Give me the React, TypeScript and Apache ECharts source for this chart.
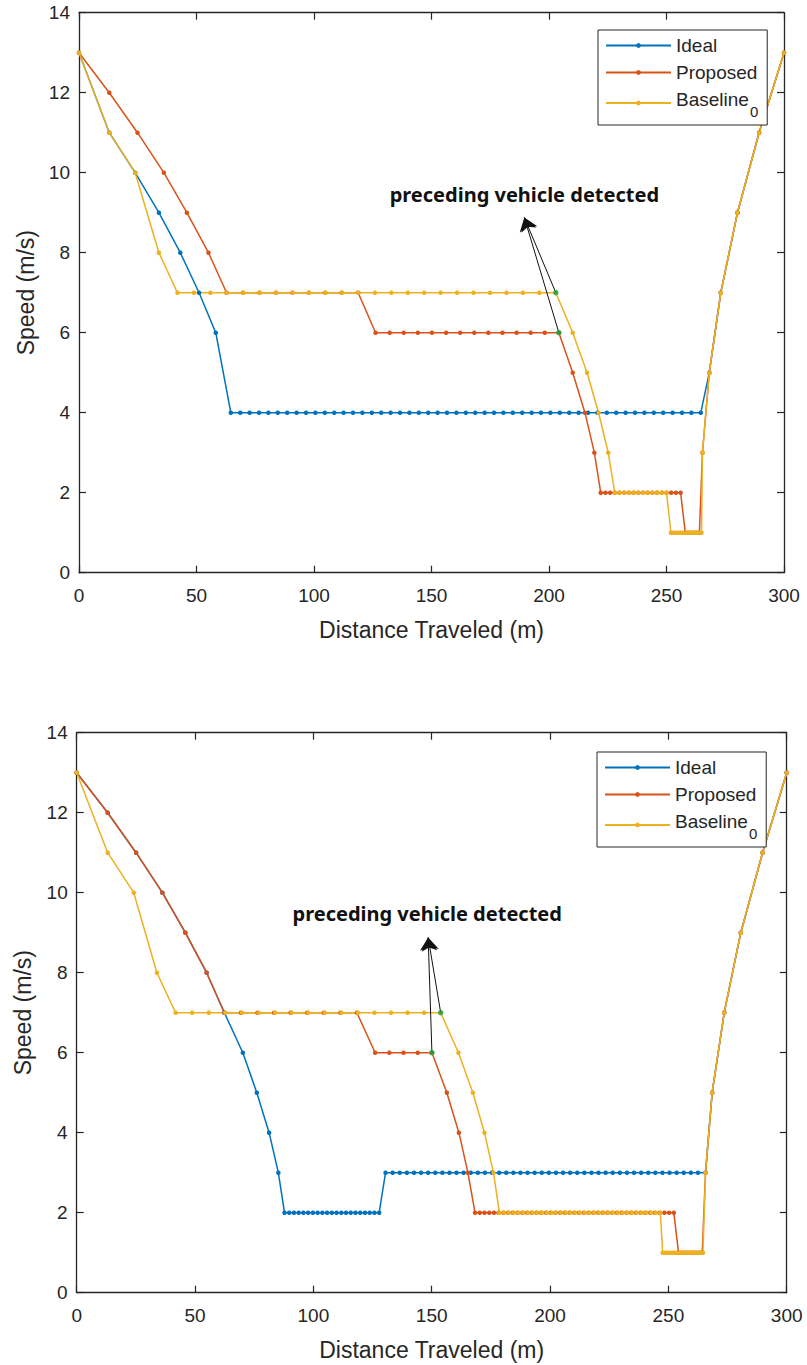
import React, { useEffect, useRef } from "react";
import * as echarts from "echarts";

// ---------- Scenario 1 (upper panel) ----------
const topIdealX = [
  0, 12.9, 23.9, 34.0, 43.1, 51.1, 58.2,
  64.6, 68.6, 72.6, 76.6, 80.6, 84.6, 88.6, 92.6, 96.6, 100.6,
  104.6, 108.6, 112.6, 116.6, 120.6, 124.6, 128.6, 132.6, 136.6, 140.6,
  144.6, 148.6, 152.6, 156.6, 160.6, 164.6, 168.6, 172.6, 176.6, 180.6,
  184.6, 188.6, 192.6, 196.6, 200.6, 204.6, 208.6, 212.6, 216.6, 220.6,
  224.6, 228.6, 232.6, 236.6, 240.6, 244.6, 248.6, 252.6, 256.6, 260.6, 264.6,
  268.2, 273.1, 280.2, 289.4, 300,
];
const topIdealY = [
  13, 11, 10, 9, 8, 7, 6,
  4, 4, 4, 4, 4, 4, 4, 4, 4, 4,
  4, 4, 4, 4, 4, 4, 4, 4, 4, 4,
  4, 4, 4, 4, 4, 4, 4, 4, 4, 4,
  4, 4, 4, 4, 4, 4, 4, 4, 4, 4,
  4, 4, 4, 4, 4, 4, 4, 4, 4, 4, 4,
  5, 7, 9, 11, 13,
];

const topProposedX = [
  0, 12.9, 24.9, 36.1, 45.9, 55.1,
  62.8, 69.8, 76.8, 83.8, 90.8, 97.8, 104.8, 111.8, 118.8,
  126.2, 132.2, 138.2, 144.2, 150.2, 156.2, 162.2, 168.2, 174.2, 180.2, 186.2, 192.2, 198.2, 204.2,
  210.1, 215.3, 219.3,
  222, 224, 226, 228, 230, 232, 234, 236, 238, 240, 242, 244, 246, 248, 250, 252, 254, 256,
  258, 259, 260, 261, 262, 263, 264,
  265.3, 268.2, 273.1, 280.2, 289.4, 300,
];
const topProposedY = [
  13, 12, 11, 10, 9, 8,
  7, 7, 7, 7, 7, 7, 7, 7, 7,
  6, 6, 6, 6, 6, 6, 6, 6, 6, 6, 6, 6, 6, 6,
  5, 4, 3,
  2, 2, 2, 2, 2, 2, 2, 2, 2, 2, 2, 2, 2, 2, 2, 2, 2, 2,
  1, 1, 1, 1, 1, 1, 1,
  3, 5, 7, 9, 11, 13,
];

const topBaselineX = [
  0, 12.9, 23.9, 34.0,
  41.9, 48.9, 55.9, 62.9, 69.9, 76.9, 83.9, 90.9, 97.9, 104.9, 111.9, 118.9,
  125.9, 132.9, 139.9, 146.9, 153.9, 160.9, 167.9, 174.9, 181.9, 188.9, 195.9, 202.9,
  210.1, 216.2, 221.1, 225.2,
  228, 230, 232, 234, 236, 238, 240, 242, 244, 246, 248, 250,
  251.9, 252.9, 253.9, 254.9, 255.9, 256.9, 257.9, 258.9, 259.9, 260.9, 261.9, 262.9, 263.9, 264.9,
  265.3, 268.2, 273.1, 280.2, 289.4, 300,
];
const topBaselineY = [
  13, 11, 10, 8,
  7, 7, 7, 7, 7, 7, 7, 7, 7, 7, 7, 7,
  7, 7, 7, 7, 7, 7, 7, 7, 7, 7, 7, 7,
  6, 5, 4, 3,
  2, 2, 2, 2, 2, 2, 2, 2, 2, 2, 2, 2,
  1, 1, 1, 1, 1, 1, 1, 1, 1, 1, 1, 1, 1, 1,
  3, 5, 7, 9, 11, 13,
];

// points where the preceding vehicle is detected (Proposed, Baseline0)
const topDetectX = [204.2, 202.9];
const topDetectY = [6, 7];

// ---------- Scenario 2 (lower panel) ----------
const botIdealX = [
  0, 13.1, 25.1, 36.2, 45.9, 54.9, 62.4, 70.2, 76.1, 81.3, 85.2,
  87.8, 89.8, 91.8, 93.8, 95.8, 97.8, 99.8, 101.8, 103.8, 105.8,
  107.8, 109.8, 111.8, 113.8, 115.8, 117.8, 119.8, 121.8, 123.8, 125.8, 127.8,
  130.5, 133.5, 136.5, 139.5, 142.5, 145.5, 148.5, 151.5, 154.5, 157.5,
  160.5, 163.5, 166.5, 169.5, 172.5, 175.5, 178.5, 181.5, 184.5, 187.5,
  190.5, 193.5, 196.5, 199.5, 202.5, 205.5, 208.5, 211.5, 214.5, 217.5,
  220.5, 223.5, 226.5, 229.5, 232.5, 235.5, 238.5, 241.5, 244.5, 247.5,
  250.5, 253.5, 256.5, 259.5, 262.5, 265.7,
  268.5, 273.6, 280.6, 289.8, 300,
];
const botIdealY = [
  13, 12, 11, 10, 9, 8, 7, 6, 5, 4, 3,
  2, 2, 2, 2, 2, 2, 2, 2, 2, 2,
  2, 2, 2, 2, 2, 2, 2, 2, 2, 2, 2,
  3, 3, 3, 3, 3, 3, 3, 3, 3, 3,
  3, 3, 3, 3, 3, 3, 3, 3, 3, 3,
  3, 3, 3, 3, 3, 3, 3, 3, 3, 3,
  3, 3, 3, 3, 3, 3, 3, 3, 3, 3,
  3, 3, 3, 3, 3, 3,
  5, 7, 9, 11, 13,
];

const botProposedX = [
  0, 13.1, 25.1, 36.2, 45.9, 54.9,
  62.4, 69.4, 76.4, 83.4, 90.4, 97.4, 104.4, 111.4, 118.4,
  126.1, 132.1, 138.1, 144.1, 150.1,
  156.4, 161.5, 165.3,
  168.3, 170.3, 172.3, 174.3, 176.3, 178.3, 180.3, 182.3, 184.3, 186.3,
  188.3, 190.3, 192.3, 194.3, 196.3, 198.3, 200.3, 202.3, 204.3, 206.3,
  208.3, 210.3, 212.3, 214.3, 216.3, 218.3, 220.3, 222.3, 224.3, 226.3,
  228.3, 230.3, 232.3, 234.3, 236.3, 238.3, 240.3, 242.3, 244.3, 246.3,
  248.3, 250.3, 252.3,
  254.3, 255.3, 256.3, 257.3, 258.3, 259.3, 260.3, 261.3, 262.3, 263.3, 264.3,
  265.7, 268.5, 273.6, 280.6, 289.8, 300,
];
const botProposedY = [
  13, 12, 11, 10, 9, 8,
  7, 7, 7, 7, 7, 7, 7, 7, 7,
  6, 6, 6, 6, 6,
  5, 4, 3,
  2, 2, 2, 2, 2, 2, 2, 2, 2, 2,
  2, 2, 2, 2, 2, 2, 2, 2, 2, 2,
  2, 2, 2, 2, 2, 2, 2, 2, 2, 2,
  2, 2, 2, 2, 2, 2, 2, 2, 2, 2,
  2, 2, 2,
  1, 1, 1, 1, 1, 1, 1, 1, 1, 1, 1,
  3, 5, 7, 9, 11, 13,
];

const botBaselineX = [
  0, 13.1, 24.1, 33.9,
  41.8, 48.8, 55.8, 62.8, 69.8, 76.8, 83.8, 90.8, 97.8,
  104.8, 111.8, 118.8, 125.8, 132.8, 139.8, 146.8, 153.8,
  161.3, 167.4, 172.3, 176.1,
  178.6, 180.6, 182.6, 184.6, 186.6, 188.6, 190.6, 192.6, 194.6, 196.6,
  198.6, 200.6, 202.6, 204.6, 206.6, 208.6, 210.6, 212.6, 214.6, 216.6,
  218.6, 220.6, 222.6, 224.6, 226.6, 228.6, 230.6, 232.6, 234.6, 236.6,
  238.6, 240.6, 242.6, 244.6, 246.6,
  247.6, 248.6, 249.6, 250.6, 251.6, 252.6, 253.6, 254.6, 255.6,
  256.6, 257.6, 258.6, 259.6, 260.6, 261.6, 262.6, 263.6, 264.6,
  265.7, 268.5, 273.6, 280.6, 289.8, 300,
];
const botBaselineY = [
  13, 11, 10, 8,
  7, 7, 7, 7, 7, 7, 7, 7, 7,
  7, 7, 7, 7, 7, 7, 7, 7,
  6, 5, 4, 3,
  2, 2, 2, 2, 2, 2, 2, 2, 2, 2,
  2, 2, 2, 2, 2, 2, 2, 2, 2, 2,
  2, 2, 2, 2, 2, 2, 2, 2, 2, 2,
  2, 2, 2, 2, 2,
  1, 1, 1, 1, 1, 1, 1, 1, 1,
  1, 1, 1, 1, 1, 1, 1, 1, 1,
  3, 5, 7, 9, 11, 13,
];

const botDetectX = [150.1, 153.8];
const botDetectY = [6, 7];

// annotation anchors (data coordinates)
const topArrowTip = [189.5, 8.88];
const topNote = [189.5, 9.45];
const botArrowTip = [148.5, 8.88];
const botNote = [148.1, 9.47];

const seriesNames = ["Ideal", "Proposed", "Baseline0"];
const seriesColors = ["#0072BD", "#D95319", "#EDB120"];
const detectColor = "#1BA841";
const noteText = "preceding vehicle detected";

const xTicksMax = 300;
const yTicksMax = 14;

const INK = "#262626";
const FONT = "'Liberation Sans', Arial, sans-serif";

const zip = (xs: number[], ys: number[]) => xs.map((x, i) => [x, ys[i]]);

function axisPair(kind: "x" | "y", grid: number) {
  const isX = kind === "x";
  const common = {
    gridIndex: grid,
    type: "value",
    min: 0,
    max: isX ? xTicksMax : yTicksMax,
    interval: isX ? 50 : 2,
    splitLine: { show: false },
    axisLine: { show: true, onZero: false, lineStyle: { color: INK, width: 1.3 } },
    axisTick: { show: true, inside: true, length: 7, lineStyle: { color: INK, width: 1.2 } },
  };
  const main = {
    ...common,
    position: isX ? "bottom" : "left",
    name: isX ? "Distance Traveled (m)" : "Speed (m/s)",
    nameLocation: "middle",
    nameGap: isX ? 46 : 42,
    nameTextStyle: { fontSize: 23, color: INK, fontFamily: FONT },
    axisLabel: { fontSize: 19, color: INK, fontFamily: FONT, margin: isX ? 13 : 9 },
  };
  const mirror = {
    ...common,
    position: isX ? "top" : "right",
    axisLabel: { show: false },
  };
  return [main, mirror];
}

function lineSeries(name: string, color: string, xs: number[], ys: number[], axis: number) {
  return {
    type: "line",
    name,
    xAxisIndex: axis,
    yAxisIndex: axis,
    data: zip(xs, ys),
    symbol: "circle",
    symbolSize: 4.5,
    showAllSymbol: true,
    lineStyle: { color, width: 1.5 },
    itemStyle: { color },
    emphasis: { disabled: true },
    silent: true,
  };
}

function detectSeries(xs: number[], ys: number[], tip: number[], note: number[], axis: number) {
  const pts = zip(xs, ys);
  return {
    type: "scatter",
    name: "detected",
    xAxisIndex: axis,
    yAxisIndex: axis,
    data: pts,
    symbol: "circle",
    symbolSize: 5.5,
    itemStyle: { color: detectColor },
    silent: true,
    z: 5,
    markLine: {
      silent: true,
      symbol: ["none", "arrow"],
      symbolSize: 13,
      lineStyle: { color: "#111", width: 1, type: "solid" },
      label: { show: false },
      emphasis: { disabled: true },
      data: pts.map((p) => [{ coord: p }, { coord: tip }]),
    },
    markPoint: {
      silent: true,
      symbol: "circle",
      symbolSize: 0,
      label: {
        show: true,
        position: "inside",
        formatter: noteText,
        fontSize: 20,
        fontWeight: "bold",
        color: "#111",
        fontFamily: "'Noto Sans', sans-serif",
      },
      data: [{ coord: note }],
    },
  };
}

function legendAt(left: number, top: number) {
  return {
    data: seriesNames,
    orient: "vertical",
    left,
    top,
    itemWidth: 65,
    itemHeight: 6,
    itemGap: 8,
    padding: [6, 9, 6, 7],
    borderColor: INK,
    borderWidth: 1,
    backgroundColor: "#fff",
    selectedMode: false,
    formatter: (n: string) => (n === "Baseline0" ? "{b|Baseline}{s|0}" : n),
    textStyle: {
      fontSize: 19,
      color: INK,
      fontFamily: FONT,
      rich: {
        b: { fontSize: 19, color: INK, fontFamily: FONT, verticalAlign: "top", padding: [3, 0, 0, 0] },
        s: { fontSize: 15, color: INK, fontFamily: FONT, verticalAlign: "bottom", padding: [17, 0, 0, 1] },
      },
    },
  };
}

export default function App() {
  const ref = useRef<HTMLDivElement>(null);

  useEffect(() => {
    if (!ref.current) return;
    const chart = echarts.init(ref.current, null, { renderer: "svg" });
    const [tx, txm] = axisPair("x", 0);
    const [ty, tym] = axisPair("y", 0);
    const [bx, bxm] = axisPair("x", 1);
    const [by, bym] = axisPair("y", 1);

    chart.setOption({
      animation: false,
      backgroundColor: "#fff",
      grid: [
        { left: 79, top: 12.7, width: 705, height: 560 },
        { left: 76.7, top: 732.7, width: 710, height: 560 },
      ],
      xAxis: [tx, txm, bx, bxm],
      yAxis: [ty, tym, by, bym],
      legend: [legendAt(598, 30), legendAt(597, 752)],
      series: [
        lineSeries(seriesNames[0], seriesColors[0], topIdealX, topIdealY, 0),
        lineSeries(seriesNames[1], seriesColors[1], topProposedX, topProposedY, 0),
        lineSeries(seriesNames[2], seriesColors[2], topBaselineX, topBaselineY, 0),
        detectSeries(topDetectX, topDetectY, topArrowTip, topNote, 0),
        lineSeries(seriesNames[0], seriesColors[0], botIdealX, botIdealY, 2),
        lineSeries(seriesNames[1], seriesColors[1], botProposedX, botProposedY, 2),
        lineSeries(seriesNames[2], seriesColors[2], botBaselineX, botBaselineY, 2),
        detectSeries(botDetectX, botDetectY, botArrowTip, botNote, 2),
      ],
    });
    return () => chart.dispose();
  }, []);

  return (
    <div
      ref={ref}
      style={{ position: "absolute", left: 0, top: 0, width: 807, height: 1365, background: "#fff" }}
    />
  );
}
